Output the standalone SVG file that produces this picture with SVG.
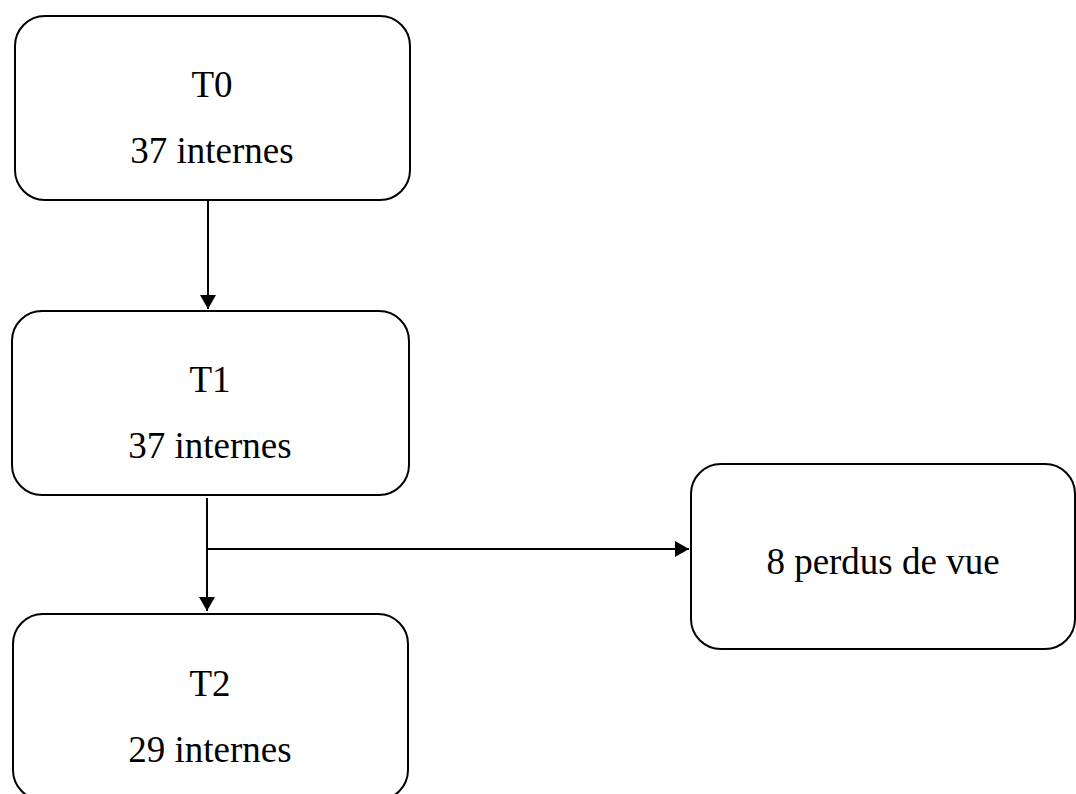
<svg xmlns="http://www.w3.org/2000/svg" width="1076" height="794" viewBox="0 0 1076 794">
<style>
.box{fill:#fff;stroke:#000;stroke-width:2}
.t{font-family:"Liberation Serif","Times New Roman",serif;font-size:37px;fill:#000;text-anchor:middle}
.c{stroke:#000;stroke-width:2;fill:none}
</style>
<defs>
<marker id="ah" markerWidth="8" markerHeight="8" refX="7" refY="4" orient="auto" markerUnits="strokeWidth">
<path d="M0,0 L7,4 L0,8 Z" fill="#000"/>
</marker>
</defs>
<rect width="1076" height="794" fill="#fff"/>
<g id="connectors">
<line class="c" x1="208" y1="201" x2="208" y2="309" marker-end="url(#ah)"/>
<line class="c" x1="207" y1="498" x2="207" y2="611" marker-end="url(#ah)"/>
<line class="c" x1="207" y1="549" x2="689" y2="549" marker-end="url(#ah)"/>
</g>
<g id="T0">
<rect class="box" x="15" y="16" width="395" height="184" rx="30"/>
<text class="t" x="212" y="97">T0</text>
<text class="t" x="212" y="163">37 internes</text>
</g>
<g id="T1">
<rect class="box" x="12" y="311" width="397" height="184" rx="30"/>
<text class="t" x="210" y="392">T1</text>
<text class="t" x="210" y="458">37 internes</text>
</g>
<g id="T2">
<rect class="box" x="13" y="614" width="395" height="186" rx="30"/>
<text class="t" x="210" y="696">T2</text>
<text class="t" x="210" y="762">29 internes</text>
</g>
<g id="perdus">
<rect class="box" x="691" y="464" width="384" height="185" rx="30"/>
<text class="t" x="883" y="574">8 perdus de vue</text>
</g>
</svg>
